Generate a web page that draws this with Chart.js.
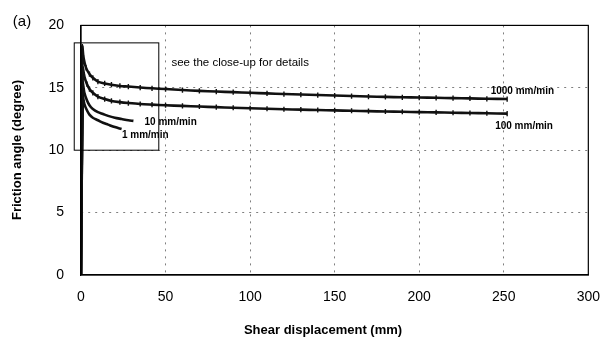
<!DOCTYPE html>
<html>
<head>
<meta charset="utf-8">
<script src="https://cdn.jsdelivr.net/npm/chart.js@4.4.1/dist/chart.umd.min.js"></script>
<style>
  html, body { margin: 0; padding: 0; background: #ffffff; }
  #wrap { width: 614px; height: 347px; position: relative; }
</style>
</head>
<body>
<div id="wrap"><canvas id="c" width="614" height="347"></canvas></div>
<script>
// Shear displacement (mm) and friction angle (degree) for each shearing rate
const rates = ['1000 mm/min', '100 mm/min', '10 mm/min', '1 mm/min'];

const disp1000  = [0, 0.8, 1.5, 3, 5, 7, 10, 14, 18, 23, 28, 35, 42, 50, 60, 70, 80, 90, 100, 110, 120, 130, 140, 150, 160, 170, 180, 190, 200, 210, 220, 230, 240, 252];
const angle1000 = [0, 18.3, 17.4, 16.6, 16.1, 15.8, 15.5, 15.35, 15.25, 15.15, 15.1, 15.02, 14.96, 14.9, 14.82, 14.75, 14.7, 14.65, 14.6, 14.55, 14.5, 14.46, 14.42, 14.38, 14.34, 14.3, 14.27, 14.24, 14.22, 14.2, 14.17, 14.15, 14.12, 14.1];

const disp100  = [0, 1, 2, 3.5, 5, 7, 10, 14, 18, 23, 28, 35, 42, 50, 60, 70, 80, 90, 100, 110, 120, 130, 140, 150, 160, 170, 180, 190, 200, 210, 220, 230, 240, 252];
const angle100 = [0, 16.6, 15.9, 15.3, 14.9, 14.6, 14.3, 14.1, 13.95, 13.85, 13.78, 13.7, 13.65, 13.6, 13.55, 13.5, 13.45, 13.4, 13.36, 13.32, 13.28, 13.25, 13.22, 13.19, 13.16, 13.13, 13.1, 13.08, 13.05, 13.03, 13.0, 12.98, 12.96, 12.93];

const disp10  = [0, 1, 2, 3.5, 5, 7, 10, 13, 16, 20, 24, 28, 31];
const angle10 = [0, 15.4, 14.6, 14.0, 13.6, 13.3, 13.05, 12.9, 12.75, 12.6, 12.5, 12.4, 12.35];

const disp1  = [0, 1, 2, 3.5, 5, 7, 10, 13, 16, 20, 24];
const angle1 = [0, 14.3, 13.7, 13.2, 12.85, 12.6, 12.4, 12.2, 12.05, 11.85, 11.7];

// Axis tick labels
const xTickValues = [0, 50, 100, 150, 200, 250, 300];
const yTickValues = [0, 5, 10, 15, 20];

// Region covered by the close-up panel (data units)
const closeUpX = [-4, 46];
const closeUpY = [10, 18.6];

// Where each rate label sits (data units)
const labelSpots = [
  { x: 261, y: 14.75 },
  { x: 262, y: 11.95 },
  { x: 53,  y: 12.2 },
  { x: 38,  y: 11.2 }
];

const FONT = '"Liberation Sans", Arial, sans-serif';

function toPoints(xs, ys) {
  return xs.map((x, i) => ({ x: x, y: ys[i] }));
}

const seriesXs = [disp1000, disp100, disp10, disp1];
const seriesYs = [angle1000, angle100, angle10, angle1];

const datasets = rates.map((name, k) => ({
  label: name,
  data: toPoints(seriesXs[k], seriesYs[k]),
  showLine: true,
  borderColor: '#111111',
  backgroundColor: '#111111',
  borderWidth: 2.6,
  tension: 0.3,
  pointStyle: 'line',
  rotation: 90,
  pointRadius: (ctx) => (ctx.dataIndex === 0 || k > 1) ? 0 : 2.6,
  pointBorderWidth: 1.4,
  pointBorderColor: '#111111',
  pointHoverRadius: 0
}));

// Frame, close-up box, axis titles and annotations
const decorations = {
  id: 'decorations',
  afterDraw(chart) {
    const { ctx, chartArea: a, scales: { x, y } } = chart;
    ctx.save();
    // full plot frame
    ctx.strokeStyle = '#000000';
    ctx.lineWidth = 1.2;
    ctx.strokeRect(a.left, a.top, a.right - a.left, a.bottom - a.top);

    // close-up region box
    const bx0 = x.getPixelForValue(closeUpX[0]);
    const bx1 = x.getPixelForValue(closeUpX[1]);
    const by0 = y.getPixelForValue(closeUpY[1]);
    const by1 = y.getPixelForValue(closeUpY[0]);
    ctx.lineWidth = 1;
    ctx.strokeRect(bx0, by0, bx1 - bx0, by1 - by0);

    ctx.fillStyle = '#000000';
    ctx.textBaseline = 'middle';

    // note beside the box
    ctx.font = '11.5px ' + FONT;
    ctx.textAlign = 'left';
    ctx.fillText('see the close-up for details', x.getPixelForValue(53.5), y.getPixelForValue(17.0));

    // rate labels
    ctx.font = 'bold 10px ' + FONT;
    ctx.textAlign = 'center';
    rates.forEach((name, i) => {
      ctx.fillText(name, x.getPixelForValue(labelSpots[i].x), y.getPixelForValue(labelSpots[i].y));
    });

    // panel tag
    ctx.font = '15px ' + FONT;
    ctx.textAlign = 'center';
    ctx.fillText('(a)', 22, 22);

    // axis titles
    ctx.font = 'bold 13px ' + FONT;
    ctx.fillText('Shear displacement (mm)', 323, 330);
    ctx.translate(17, 150);
    ctx.rotate(-Math.PI / 2);
    ctx.fillText('Friction angle (degree)', 0, 0);
    ctx.restore();
  }
};

const gridColor = (ctx, last) =>
  (ctx.tick && (ctx.tick.value === 0 || ctx.tick.value === last)) ? 'rgba(0,0,0,0)' : 'rgba(0,0,0,0.5)';

new Chart(document.getElementById('c'), {
  type: 'scatter',
  data: { datasets },
  options: {
    responsive: false,
    animation: false,
    events: [],
    layout: { padding: { left: 0, right: 15, top: 21, bottom: 0 } },
    plugins: {
      legend: { display: false },
      tooltip: { enabled: false }
    },
    scales: {
      x: {
        type: 'linear',
        min: xTickValues[0],
        max: xTickValues[xTickValues.length - 1],
        afterBuildTicks: (s) => { s.ticks = xTickValues.map(v => ({ value: v })); },
        afterFit: (s) => { s.height = 72; },
        grid: {
          drawTicks: false,
          color: (ctx) => gridColor(ctx, 300),
          lineWidth: 1
        },
        border: { display: true, color: '#000000', width: 1.2, dash: [2, 5] },
        ticks: { color: '#000000', font: { family: FONT, size: 14 }, padding: 14, maxRotation: 0 }
      },
      y: {
        type: 'linear',
        min: yTickValues[0],
        max: yTickValues[yTickValues.length - 1],
        afterBuildTicks: (s) => { s.ticks = yTickValues.map(v => ({ value: v })); },
        afterFit: (s) => { s.width = 81; },
        grid: {
          drawTicks: false,
          color: (ctx) => gridColor(ctx, 20),
          lineWidth: 1
        },
        border: { display: true, color: '#000000', width: 1.2, dash: [2, 5] },
        ticks: { color: '#000000', font: { family: FONT, size: 14 }, padding: 17 }
      }
    }
  },
  plugins: [decorations]
});
</script>
</body>
</html>
